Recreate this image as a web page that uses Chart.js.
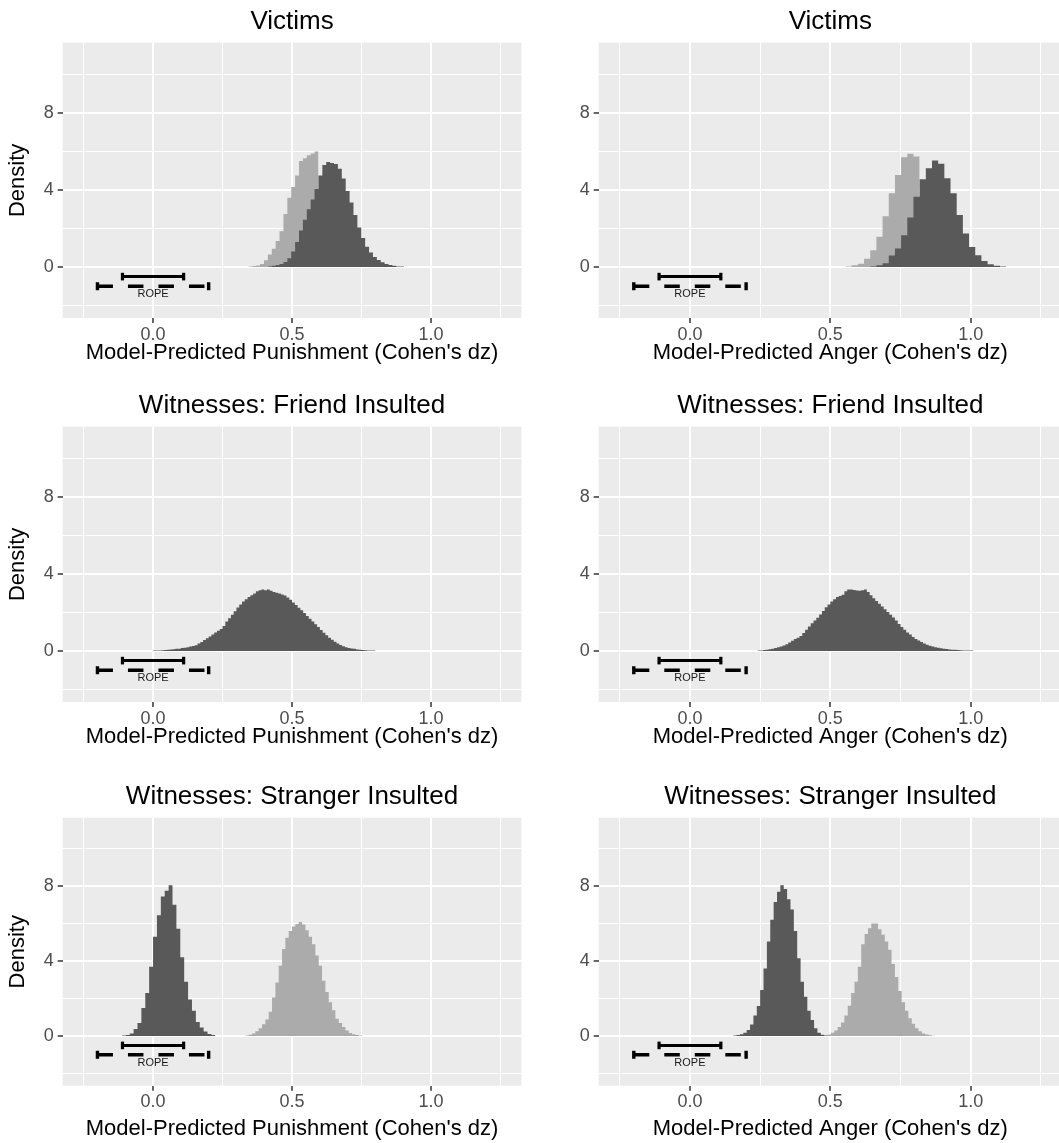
<!DOCTYPE html>
<html>
<head>
<meta charset="utf-8">
<script src="https://cdn.jsdelivr.net/npm/chart.js@4.4.1/dist/chart.umd.min.js"></script>
<style>
  html, body { margin: 0; padding: 0; background: #fff; overflow: hidden; }
  #wrap { position: relative; width: 1059px; height: 1143px; }
  #wrap canvas { position: absolute; }
</style>
</head>
<body>
<div id="wrap"></div>
<script>
// axis ticks / grid
const xGrid = [-0.25, 0, 0.25, 0.5, 0.75, 1.0, 1.25];
const xMajor = [0, 0.5, 1.0];
const yGrid = [-2, 0, 2, 4, 6, 8, 10];
const yMajor = [0, 4, 8];

// region of practical equivalence, drawn under every histogram
const ropeInner = [-0.11, 0.11];
const ropeOuter = [-0.2, 0.2];
const ropeLevels = [-0.5, -1.0];
const ropeLabelY = -1.42;

// histogram heights (density); bins start at *Start, width *Width
const victimsPunishDarkStart = 0.413, victimsPunishDarkWidth = 0.014;
const victimsPunishDark = [0.03, 0.06, 0.10, 0.16, 0.26, 0.45, 0.80, 1.30, 1.90, 2.45, 3.00, 3.50, 4.05, 4.75, 5.30, 5.45, 5.40, 5.35, 5.10, 4.60, 3.95, 3.35, 2.70, 2.05, 1.50, 1.05, 0.75, 0.52, 0.36, 0.25, 0.16, 0.10, 0.06, 0.03, 0.02];
const victimsPunishLightStart = 0.343, victimsPunishLightWidth = 0.014;
const victimsPunishLight = [0.03, 0.05, 0.08, 0.16, 0.35, 0.65, 0.95, 1.35, 1.85, 2.75, 3.60, 4.15, 4.75, 5.50, 5.65, 5.80, 5.90, 6.00];

const victimsAngerDarkStart = 0.642, victimsAngerDarkWidth = 0.022;
const victimsAngerDark = [0.03, 0.09, 0.20, 0.60, 0.96, 1.65, 2.57, 3.65, 4.56, 5.13, 5.53, 5.36, 4.61, 3.83, 2.70, 1.74, 1.04, 0.61, 0.31, 0.14, 0.07, 0.03];
const victimsAngerLightStart = 0.554, victimsAngerLightWidth = 0.022;
const victimsAngerLight = [0.03, 0.09, 0.17, 0.43, 0.87, 1.57, 2.64, 3.83, 4.78, 5.70, 5.88, 5.74];

const friendPunishStart = 0.0, friendPunishWidth = 0.01;
const friendPunish = [
  0.02, 0.02, 0.03, 0.04, 0.05, 0.06, 0.08, 0.09, 0.11, 0.12,
  0.15, 0.17, 0.20, 0.23, 0.26, 0.30, 0.39, 0.47, 0.57, 0.66,
  0.75, 0.85, 0.96, 1.05, 1.14, 1.30, 1.53, 1.70, 1.88, 2.07,
  2.26, 2.42, 2.57, 2.69, 2.80, 2.90, 2.99, 3.10, 3.16, 3.20,
  3.15, 3.19, 3.13, 3.06, 3.02, 2.98, 2.93, 2.88, 2.78, 2.66,
  2.52, 2.39, 2.24, 2.12, 1.97, 1.82, 1.67, 1.53, 1.39, 1.24,
  1.09, 0.95, 0.82, 0.69, 0.58, 0.48, 0.39, 0.31, 0.25, 0.20,
  0.16, 0.13, 0.11, 0.08, 0.07, 0.05, 0.04, 0.03, 0.03, 0.02];

const friendAngerStart = 0.24, friendAngerWidth = 0.01;
const friendAnger = [
  0.02, 0.03, 0.05, 0.07, 0.09, 0.12, 0.15, 0.19, 0.23, 0.29,
  0.35, 0.44, 0.53, 0.62, 0.69, 0.78, 0.94, 1.10, 1.27, 1.44,
  1.58, 1.73, 1.89, 2.08, 2.27, 2.42, 2.57, 2.69, 2.80, 2.86,
  2.92, 3.10, 3.19, 3.20, 3.17, 3.14, 3.13, 3.15, 3.20, 3.06,
  2.90, 2.74, 2.59, 2.45, 2.31, 2.17, 2.03, 1.88, 1.74, 1.58,
  1.40, 1.24, 1.10, 0.96, 0.85, 0.72, 0.62, 0.54, 0.47, 0.39,
  0.32, 0.27, 0.23, 0.20, 0.17, 0.14, 0.12, 0.10, 0.08, 0.07,
  0.06, 0.05, 0.04, 0.03, 0.03, 0.02, 0.02];

const strangerPunishDarkStart = -0.112, strangerPunishDarkWidth = 0.014;
const strangerPunishDark = [0.03, 0.06, 0.13, 0.38, 0.70, 1.50, 2.30, 3.70, 5.30, 6.45, 7.45, 7.75, 8.05, 7.00, 5.72, 4.20, 2.90, 1.95, 1.35, 0.75, 0.45, 0.24, 0.11, 0.05];
const strangerPunishLightStart = 0.332, strangerPunishLightWidth = 0.012;
const strangerPunishLight = [0.03, 0.07, 0.13, 0.25, 0.42, 0.63, 0.88, 1.30, 2.05, 2.85, 3.75, 4.65, 5.25, 5.60, 5.85, 5.98, 6.08, 5.95, 5.65, 5.30, 4.90, 4.30, 3.75, 2.95, 2.35, 1.80, 1.37, 0.92, 0.70, 0.48, 0.30, 0.16, 0.09, 0.05, 0.03];

const strangerAngerDarkStart = 0.154, strangerAngerDarkWidth = 0.012;
const strangerAngerDark = [0.03, 0.06, 0.10, 0.18, 0.32, 0.62, 1.10, 1.60, 2.45, 3.60, 5.05, 6.20, 7.15, 7.70, 8.05, 7.85, 7.30, 6.75, 5.60, 4.15, 2.90, 2.10, 1.35, 0.85, 0.42, 0.18, 0.07, 0.03];
const strangerAngerLightStart = 0.478, strangerAngerLightWidth = 0.012;
const strangerAngerLight = [0.03, 0.08, 0.17, 0.30, 0.48, 0.72, 1.10, 1.62, 2.30, 2.90, 3.70, 4.90, 5.45, 5.75, 6.00, 6.00, 5.70, 5.40, 5.05, 4.60, 3.85, 3.15, 2.40, 1.80, 1.35, 0.95, 0.65, 0.42, 0.26, 0.14, 0.08, 0.04, 0.02];

const FONT = "'Liberation Sans', Arial, sans-serif";
const DARK = '#595959';
const LIGHT = '#ababab';

// left bin edges -> step points (last point closes the final bin)
function histPoints(start, width, values) {
  const pts = values.map((v, i) => ({ x: start + i * width, y: v }));
  pts.push({ x: start + values.length * width, y: 0 });
  return pts;
}

const panelBg = {
  id: 'panelBg',
  beforeDraw(chart) {
    const { ctx, chartArea: a } = chart;
    ctx.save();
    ctx.fillStyle = '#ebebeb';
    ctx.fillRect(a.left, a.top, a.width, a.height);
    ctx.restore();
  }
};

const ropePlugin = {
  id: 'rope',
  afterDatasetsDraw(chart) {
    const { ctx } = chart;
    const x = chart.scales.x, y = chart.scales.y;
    ctx.save();
    ctx.strokeStyle = '#000';
    ctx.fillStyle = '#000';

    // solid inner bar
    const yi = y.getPixelForValue(ropeLevels[0]);
    const a0 = x.getPixelForValue(ropeInner[0]), a1 = x.getPixelForValue(ropeInner[1]);
    ctx.lineWidth = 3;
    ctx.beginPath(); ctx.moveTo(a0, yi); ctx.lineTo(a1, yi); ctx.stroke();
    ctx.fillRect(a0 - 1.6, yi - 3.8, 3.2, 7.6);
    ctx.fillRect(a1 - 1.6, yi - 3.8, 3.2, 7.6);

    // dashed outer bar
    const yo = y.getPixelForValue(ropeLevels[1]);
    const b0 = x.getPixelForValue(ropeOuter[0]), b1 = x.getPixelForValue(ropeOuter[1]);
    ctx.lineWidth = 3.5;
    ctx.setLineDash([15.5, 15]);
    ctx.beginPath(); ctx.moveTo(b0, yo); ctx.lineTo(b1, yo); ctx.stroke();
    ctx.setLineDash([]);
    ctx.fillRect(b0 - 1.7, yo - 4, 3.4, 8);
    ctx.fillRect(b1 - 1.7, yo - 4, 3.4, 8);

    ctx.fillStyle = '#1a1a1a';
    ctx.font = '11px ' + FONT;
    ctx.textAlign = 'center';
    ctx.textBaseline = 'middle';
    ctx.fillText('ROPE', x.getPixelForValue(0), y.getPixelForValue(ropeLabelY));
    ctx.restore();
  }
};

const wrap = document.getElementById('wrap');

const cols = [
  { left: 0, width: 530, padRight: 8.6, yAxisW: 62.7, xTitle: "Model-Predicted Punishment (Cohen's dz)", yTitle: true },
  { left: 530, width: 532, padRight: 0, yAxisW: 68.7, xTitle: "Model-Predicted Anger (Cohen's dz)", yTitle: false }
];
const rows = [
  { top: 0, height: 373, xAxisH: 55, xTitlePad: 6.8, title: 'Victims' },
  { top: 384, height: 373, xAxisH: 55, xTitlePad: 6.8, title: 'Witnesses: Friend Insulted' },
  { top: 775, height: 368, xAxisH: 57.3, xTitlePad: 0.5, title: 'Witnesses: Stranger Insulted' }
];

const panelSeries = [
  [ // victims
    [histPoints(victimsPunishDarkStart, victimsPunishDarkWidth, victimsPunishDark), histPoints(victimsPunishLightStart, victimsPunishLightWidth, victimsPunishLight)],
    [histPoints(victimsAngerDarkStart, victimsAngerDarkWidth, victimsAngerDark), histPoints(victimsAngerLightStart, victimsAngerLightWidth, victimsAngerLight)]
  ],
  [ // friend insulted
    [histPoints(friendPunishStart, friendPunishWidth, friendPunish)],
    [histPoints(friendAngerStart, friendAngerWidth, friendAnger)]
  ],
  [ // stranger insulted
    [histPoints(strangerPunishDarkStart, strangerPunishDarkWidth, strangerPunishDark), histPoints(strangerPunishLightStart, strangerPunishLightWidth, strangerPunishLight)],
    [histPoints(strangerAngerDarkStart, strangerAngerDarkWidth, strangerAngerDark), histPoints(strangerAngerLightStart, strangerAngerLightWidth, strangerAngerLight)]
  ]
];

function makePanel(row, col, series) {
  const canvas = document.createElement('canvas');
  canvas.width = col.width;
  canvas.height = row.height;
  canvas.style.left = col.left + 'px';
  canvas.style.top = row.top + 'px';
  wrap.appendChild(canvas);

  const datasets = series.map((pts, i) => ({
    data: pts,
    backgroundColor: i === 0 ? DARK : LIGHT,
    borderColor: 'rgba(0,0,0,0)',
    borderWidth: 0,
    fill: 'origin',
    stepped: 'before',
    pointRadius: 0
  }));

  return new Chart(canvas, {
    type: 'line',
    data: { datasets },
    options: {
      responsive: false,
      animation: false,
      events: [],
      layout: { padding: { left: 0, right: col.padRight, top: 0, bottom: 0 } },
      plugins: {
        legend: { display: false },
        tooltip: { enabled: false },
        title: {
          display: true,
          fullSize: false,
          text: row.title,
          color: '#000',
          font: { family: FONT, size: 26, weight: 'normal', lineHeight: 1.2 },
          padding: { top: 6.5, bottom: 5 }
        }
      },
      scales: {
        x: {
          type: 'linear',
          min: -0.325,
          max: 1.325,
          afterBuildTicks: s => { s.ticks = xGrid.map(v => ({ value: v })); },
          afterFit: s => { s.height = row.xAxisH; },
          border: { display: false },
          grid: {
            color: '#ffffff',
            lineWidth: c => xMajor.includes(c.tick.value) ? 2 : 1,
            tickLength: 5,
            tickWidth: 1.5,
            tickColor: c => xMajor.includes(c.tick.value) ? '#333333' : 'rgba(0,0,0,0)'
          },
          ticks: {
            autoSkip: false,
            maxRotation: 0,
            padding: 1,
            color: '#4d4d4d',
            font: { family: FONT, size: 18 },
            callback: v => xMajor.includes(v) ? v.toFixed(1) : ''
          },
          title: {
            display: true,
            text: col.xTitle,
            color: '#000',
            font: { family: FONT, size: 22, lineHeight: 1.2 },
            padding: { top: 0, bottom: row.xTitlePad }
          }
        },
        y: {
          type: 'linear',
          min: -2.65,
          max: 11.65,
          afterBuildTicks: s => { s.ticks = yGrid.map(v => ({ value: v })); },
          afterFit: s => { s.width = col.yAxisW; },
          border: { display: false },
          grid: {
            color: '#ffffff',
            lineWidth: c => yMajor.includes(c.tick.value) ? 2 : 1,
            tickLength: 5,
            tickWidth: 1.5,
            tickColor: c => yMajor.includes(c.tick.value) ? '#333333' : 'rgba(0,0,0,0)'
          },
          ticks: {
            autoSkip: false,
            padding: 4,
            color: '#4d4d4d',
            font: { family: FONT, size: 18 },
            callback: v => yMajor.includes(v) ? String(v) : ''
          },
          title: {
            display: col.yTitle,
            text: 'Density',
            color: '#000',
            font: { family: FONT, size: 22, lineHeight: 1.2 },
            padding: { top: 4.8, bottom: 0 }
          }
        }
      }
    },
    plugins: [panelBg, ropePlugin]
  });
}

rows.forEach((row, r) => {
  cols.forEach((col, c) => makePanel(row, col, panelSeries[r][c]));
});
</script>
</body>
</html>
